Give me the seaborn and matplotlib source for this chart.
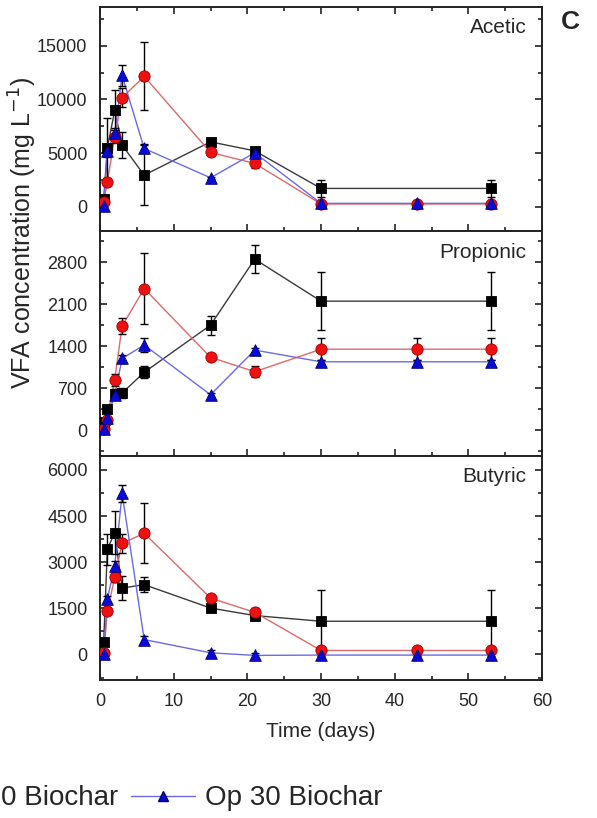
import numpy as np
import pandas as pd
import matplotlib.pyplot as plt
import seaborn as sns
from matplotlib.lines import Line2D
from matplotlib.ticker import MultipleLocator

# data
days = [0.5, 1, 2, 3, 6, 15, 21, 30, 43, 53]
series_names = ['Op Control', 'Op 0 Biochar', 'Op 30 Biochar']
panels = ['Acetic', 'Propionic', 'Butyric']
nan = np.nan

acetic_black = [680, 5500, 8980, 5730, 2940, 6040, 5200, 1700, nan, 1700]
acetic_black_err = [200, 2800, 1850, 1240, 2800, 340, 300, 780, nan, 780]
acetic_red = [460, 2320, 6500, 10150, 12140, 5050, 4030, 250, 250, 250]
acetic_red_err = [150, 300, 600, 900, 3170, 200, 400, 100, 100, 100]
acetic_blue = [60, 5200, 6870, 12230, 5420, 2690, 5020, 310, 310, 310]
acetic_blue_err = [100, 600, 500, 1000, 400, 100, 200, 100, 100, 100]

propionic_black = [130, 350, 600, 620, 965, 1750, 2850, 2150, nan, 2150]
propionic_black_err = [30, 60, 80, 80, 100, 160, 230, 480, nan, 480]
propionic_red = [20, 165, 845, 1735, 2360, 1215, 975, 1350, 1350, 1350]
propionic_red_err = [20, 40, 100, 130, 590, 40, 90, 180, 180, 180]
propionic_blue = [15, 205, 590, 1195, 1420, 590, 1335, 1140, 1140, 1140]
propionic_blue_err = [10, 40, 60, 50, 110, 30, 40, 30, 30, 30]

butyric_black = [400, 3420, 3960, 2160, 2270, 1510, 1265, 1080, nan, 1080]
butyric_black_err = [100, 500, 700, 400, 250, 100, 150, 1025, nan, 1025]
butyric_red = [55, 1425, 2505, 3615, 3940, 1835, 1370, 130, 130, 130]
butyric_red_err = [30, 100, 150, 300, 970, 100, 150, 50, 50, 50]
butyric_blue = [0, 1810, 2890, 5235, 485, 55, -30, -20, -20, -20]
butyric_blue_err = [20, 100, 150, 270, 100, 100, 80, 40, 40, 40]

panel_data = {
    'Acetic': [(acetic_black, acetic_black_err), (acetic_red, acetic_red_err), (acetic_blue, acetic_blue_err)],
    'Propionic': [(propionic_black, propionic_black_err), (propionic_red, propionic_red_err), (propionic_blue, propionic_blue_err)],
    'Butyric': [(butyric_black, butyric_black_err), (butyric_red, butyric_red_err), (butyric_blue, butyric_blue_err)],
}
y_limits = {'Acetic': (-2300, 18600), 'Propionic': (-424, 3313), 'Butyric': (-830, 6464)}
y_major = {'Acetic': 5000, 'Propionic': 700, 'Butyric': 1500}

line_colors = {'Op Control': '#3a3a3a', 'Op 0 Biochar': '#e06868', 'Op 30 Biochar': '#6a6ae8'}
marker_colors = {'Op Control': '#000000', 'Op 0 Biochar': '#ee1111', 'Op 30 Biochar': '#0a0ad8'}
edge_colors = {'Op Control': '#000000', 'Op 0 Biochar': '#a00000', 'Op 30 Biochar': '#000070'}
markers = {'Op Control': 's', 'Op 0 Biochar': 'o', 'Op 30 Biochar': '^'}
marker_sizes = {'Op Control': 56, 'Op 0 Biochar': 66, 'Op 30 Biochar': 70}

sns.set_theme(style='ticks')
plt.rcParams['font.family'] = ['Liberation Sans', 'DejaVu Sans']

fig = plt.figure(figsize=(5.97, 8.18), dpi=100)
gs = fig.add_gridspec(3, 1, left=0.1675, right=0.908, top=0.9914, bottom=0.1687, hspace=0)
axes = [fig.add_subplot(gs[i]) for i in range(3)]

for i, (ax, name) in enumerate(zip(axes, panels)):
    rows = []
    for s, (vals, errs) in zip(series_names, panel_data[name]):
        for d, v, e in zip(days, vals, errs):
            if not np.isnan(v):
                rows.append({'day': d, 'value': v, 'err': e, 'series': s})
    df = pd.DataFrame(rows)

    sns.lineplot(data=df, x='day', y='value', hue='series', palette=line_colors,
                 linewidth=1.0, legend=False, ax=ax, zorder=1)
    for s in series_names:
        sub = df[df['series'] == s]
        ax.errorbar(sub['day'], sub['value'], yerr=sub['err'], fmt='none',
                    ecolor='black', elinewidth=1.0, capsize=3, capthick=1.0, zorder=2)
    for s in series_names:
        sub = df[df['series'] == s]
        sns.scatterplot(data=sub, x='day', y='value', marker=markers[s], s=marker_sizes[s],
                        color=marker_colors[s], edgecolor=edge_colors[s], linewidth=0.6,
                        legend=False, ax=ax, zorder=3)

    ax.set_xlim(0, 60)
    ax.set_ylim(*y_limits[name])
    ax.xaxis.set_major_locator(MultipleLocator(10))
    ax.xaxis.set_minor_locator(MultipleLocator(5))
    ax.yaxis.set_major_locator(MultipleLocator(y_major[name]))
    ax.yaxis.set_minor_locator(MultipleLocator(y_major[name] / 2))
    ax.tick_params(which='both', direction='in', left=True, right=True,
                   top=(i == 0), bottom=True, width=1.2, labelsize=13, color='#222222')
    ax.tick_params(which='major', length=5, pad=9)
    ax.tick_params(which='minor', length=3)
    for sp in ax.spines.values():
        sp.set_linewidth(1.4)
        sp.set_color('#222222')
    ax.set_ylabel('')
    ax.set_xlabel('')
    if i < 2:
        ax.tick_params(labelbottom=False)
    ax.text(0.965, 0.95, name, transform=ax.transAxes, ha='right', va='top', fontsize=15)

axes[2].set_xlabel('Time (days)', fontsize=15, labelpad=9)
fig.text(0.038, 0.715, 'VFA concentration (mg L$^{-1}$)', rotation=90,
         ha='center', va='center', fontsize=18)
fig.text(0.955, 0.973, 'C', ha='center', va='center', fontsize=19, fontweight='bold')

# bottom legend: only the part visible in the reference
fig.text(0.002, 0.024, '0 Biochar', ha='left', va='center', fontsize=20)
blue = series_names[2]
handle = Line2D([0], [0], color=line_colors[blue], lw=1.0, marker=markers[blue],
                markerfacecolor=marker_colors[blue], markeredgecolor=edge_colors[blue],
                markersize=7)
leg = fig.legend([handle], [blue], loc='center left', bbox_to_anchor=(0.2, 0.024),
                 frameon=False, fontsize=20, handlelength=2.3,
                 handletextpad=0.36, borderaxespad=0, borderpad=0)
fig.canvas.draw()
x0 = leg.get_texts()[0].get_window_extent().x0
leg.set_bbox_to_anchor((0.2 + (205 - x0) / fig.bbox.width, 0.024), transform=fig.transFigure)

fig.savefig('out.png', dpi=100)
